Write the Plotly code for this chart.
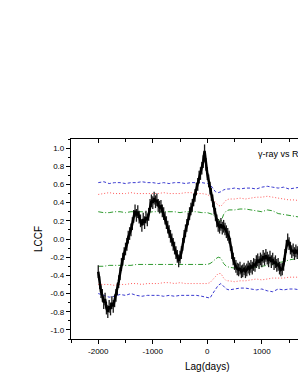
import plotly.graph_objects as go

# ---- data ----
lag = list(range(-2000, 1725, 25))
lccf = [-0.36, -0.48, -0.58, -0.62, -0.70, -0.66, -0.76, -0.80, -0.74, -0.77,
        -0.70, -0.74, -0.68, -0.62, -0.55, -0.47, -0.38, -0.28, -0.22, -0.16,
        -0.11, -0.06, 0.02, 0.06, 0.10, 0.17, 0.25, 0.31, 0.26, 0.30,
        0.24, 0.20, 0.15, 0.22, 0.18, 0.24, 0.21, 0.27, 0.37, 0.42,
        0.40, 0.45, 0.41, 0.43, 0.37, 0.35, 0.36, 0.31, 0.28, 0.23,
        0.18, 0.13, 0.08, 0.03, -0.01, -0.06, -0.10, -0.15, -0.19, -0.24,
        -0.20, -0.15, -0.06, 0.03, 0.09, 0.15, 0.22, 0.28, 0.33, 0.37,
        0.43, 0.48, 0.55, 0.60, 0.68, 0.72, 0.78, 0.85, 0.97, 0.82,
        0.72, 0.64, 0.56, 0.49, 0.42, 0.34, 0.27, 0.20, 0.15, 0.13,
        0.16, 0.12, 0.14, 0.11, 0.08, 0.05, 0.02, -0.06, -0.15, -0.22,
        -0.27, -0.30, -0.33, -0.34, -0.32, -0.36, -0.35, -0.33, -0.36, -0.34,
        -0.31, -0.33, -0.30, -0.32, -0.28, -0.29, -0.25, -0.23, -0.26, -0.22,
        -0.24, -0.19, -0.22, -0.18, -0.21, -0.24, -0.20, -0.25, -0.22, -0.27,
        -0.25, -0.29, -0.28, -0.32, -0.34, -0.33, -0.28, -0.18, -0.08, -0.01,
        -0.05, -0.10, -0.14, -0.12, -0.16, -0.13, -0.15, -0.12, -0.14]
lccf_err = [0.07] * len(lag)

band_lag = [-2000, -1900, -1800, -1700, -1600, -1500, -1400, -1300, -1200, -1100,
            -1000, -900, -800, -700, -600, -500, -400, -300, -200, -100,
            0, 50, 100, 150, 200, 250, 300, 350, 400, 500,
            600, 700, 800, 900, 1000, 1100, 1200, 1300, 1400, 1500, 1600, 1700]

blue_up = [0.62, 0.63, 0.61, 0.62, 0.62, 0.61, 0.62, 0.62, 0.63, 0.62,
           0.62, 0.61, 0.62, 0.61, 0.62, 0.62, 0.61, 0.62, 0.62, 0.62,
           0.61, 0.60, 0.56, 0.52, 0.51, 0.52, 0.54, 0.55, 0.55, 0.56,
           0.55, 0.56, 0.56, 0.55, 0.57, 0.58, 0.57, 0.56, 0.57, 0.55, 0.56, 0.57]
red_up = [0.49, 0.50, 0.51, 0.50, 0.50, 0.50, 0.51, 0.50, 0.50, 0.50,
          0.50, 0.50, 0.51, 0.50, 0.50, 0.50, 0.51, 0.51, 0.50, 0.50,
          0.49, 0.47, 0.44, 0.40, 0.37, 0.36, 0.40, 0.43, 0.44, 0.44,
          0.45, 0.44, 0.45, 0.46, 0.46, 0.47, 0.46, 0.45, 0.44, 0.43, 0.43, 0.42]
green_up = [0.30, 0.29, 0.29, 0.30, 0.30, 0.29, 0.30, 0.30, 0.30, 0.29,
            0.30, 0.30, 0.30, 0.30, 0.30, 0.29, 0.30, 0.30, 0.30, 0.29,
            0.29, 0.28, 0.27, 0.24, 0.22, 0.19, 0.27, 0.31, 0.32, 0.32,
            0.33, 0.33, 0.32, 0.31, 0.30, 0.32, 0.31, 0.28, 0.27, 0.26, 0.25, 0.24]
green_lo = [-0.30, -0.30, -0.29, -0.29, -0.29, -0.29, -0.29, -0.28, -0.28, -0.28,
            -0.28, -0.28, -0.28, -0.28, -0.28, -0.28, -0.28, -0.28, -0.28, -0.28,
            -0.28, -0.27, -0.25, -0.22, -0.20, -0.21, -0.27, -0.30, -0.31, -0.32,
            -0.32, -0.32, -0.32, -0.31, -0.30, -0.29, -0.28, -0.26, -0.25, -0.23, -0.22, -0.21]
red_lo = [-0.50, -0.50, -0.50, -0.51, -0.50, -0.50, -0.49, -0.49, -0.50, -0.49,
          -0.49, -0.49, -0.48, -0.48, -0.49, -0.48, -0.49, -0.49, -0.49, -0.49,
          -0.49, -0.48, -0.45, -0.41, -0.38, -0.38, -0.43, -0.46, -0.46, -0.47,
          -0.46, -0.46, -0.45, -0.44, -0.45, -0.44, -0.43, -0.43, -0.43, -0.42, -0.42, -0.42]
blue_lo = [-0.60, -0.62, -0.64, -0.63, -0.61, -0.62, -0.60, -0.62, -0.63, -0.62,
           -0.62, -0.62, -0.63, -0.62, -0.63, -0.62, -0.62, -0.62, -0.62, -0.63,
           -0.64, -0.65, -0.60, -0.55, -0.51, -0.49, -0.52, -0.55, -0.56, -0.55,
           -0.54, -0.54, -0.55, -0.56, -0.55, -0.57, -0.58, -0.55, -0.56, -0.55, -0.55, -0.56]

x_ticks = [-2000, -1000, 0, 1000]
x_ticktext = ["-2000", "-1000", "0", "1000"]
y_ticks = [-1.0, -0.8, -0.6, -0.4, -0.2, 0.0, 0.2, 0.4, 0.6, 0.8, 1.0]
y_ticktext = ["-1.0", "-0.8", "-0.6", "-0.4", "-0.2", "0.0", "0.2", "0.4", "0.6", "0.8", "1.0"]
title_text = "γ-ray vs R-band"
x_title = "Lag(days)"
y_title = "LCCF"

BLUE = "#3b3bd0"
RED = "#ff5a5a"
GREEN = "#2f9a2f"

fig = go.Figure()
for ys, col, dash in [(blue_up, BLUE, "3px,2px"), (red_up, RED, "1px,2px"), (green_up, GREEN, "5px,2px,1px,2px"),
                      (green_lo, GREEN, "5px,2px,1px,2px"), (red_lo, RED, "1px,2px"), (blue_lo, BLUE, "3px,2px")]:
    fig.add_trace(go.Scatter(x=band_lag, y=ys, mode="lines",
                             line=dict(color=col, width=1, dash=dash), showlegend=False))

fig.add_trace(go.Scatter(x=lag, y=lccf, mode="lines",
                         line=dict(color="black", width=2.5),
                         error_y=dict(type="data", array=lccf_err, color="#1a1a1a",
                                      thickness=1.3, width=0),
                         showlegend=False))
# dummy trace for top axis
fig.add_trace(go.Scatter(x=[None], y=[None], xaxis="x2", yaxis="y", showlegend=False))

font = "Liberation Sans, Arial, sans-serif"
XR = [-2500, 1664]
fig.update_layout(
    width=298, height=385,
    margin=dict(l=71, r=0, t=139, b=46),
    paper_bgcolor="white", plot_bgcolor="white",
    font=dict(family=font, color="black", size=8),
    xaxis=dict(range=XR, tickvals=x_ticks, ticktext=x_ticktext, automargin=False,
               ticks="outside", ticklen=4, tickwidth=1, tickcolor="black",
               minor=dict(dtick=500, tick0=0, ticks="outside", ticklen=3, tickcolor="black"),
               showline=True, linecolor="black", linewidth=1.2, showgrid=False, zeroline=False,
               tickfont=dict(size=8)),
    xaxis2=dict(overlaying="x", side="top", matches="x", range=XR, automargin=False,
                tickvals=x_ticks, showticklabels=False,
                ticks="inside", ticklen=4, tickcolor="black",
                minor=dict(dtick=500, tick0=0, ticks="inside", ticklen=3, tickcolor="black"),
                showline=True, linecolor="black", linewidth=1.2, showgrid=False, zeroline=False),
    yaxis=dict(range=[-1.1, 1.1], tickvals=y_ticks, ticktext=y_ticktext, automargin=False,
               ticks="outside", ticklen=4, tickcolor="black",
               minor=dict(dtick=0.1, tick0=0, ticks="outside", ticklen=2, tickcolor="black"),
               showline=True, linecolor="black", linewidth=1.2, showgrid=False, zeroline=False,
               tickfont=dict(size=8)),
    annotations=[
        dict(x=893, y=0.94, xref="x", yref="y", text=title_text, showarrow=False,
             xanchor="left", yanchor="middle", font=dict(size=9, family=font)),
        dict(x=(207.3 - 71) / 227, y=-0.135, xref="paper", yref="paper", text=x_title,
             showarrow=False, xanchor="center", yanchor="middle", font=dict(size=10, family=font)),
        dict(x=-0.145, y=0.5, xref="paper", yref="paper", text=y_title, textangle=-90,
             showarrow=False, xanchor="center", yanchor="middle", font=dict(size=10, family=font)),
    ],
)

fig.write_html("out.html", config={"displayModeBar": False},
               post_script="document.body.style.margin='0';document.body.style.overflow='hidden';")
